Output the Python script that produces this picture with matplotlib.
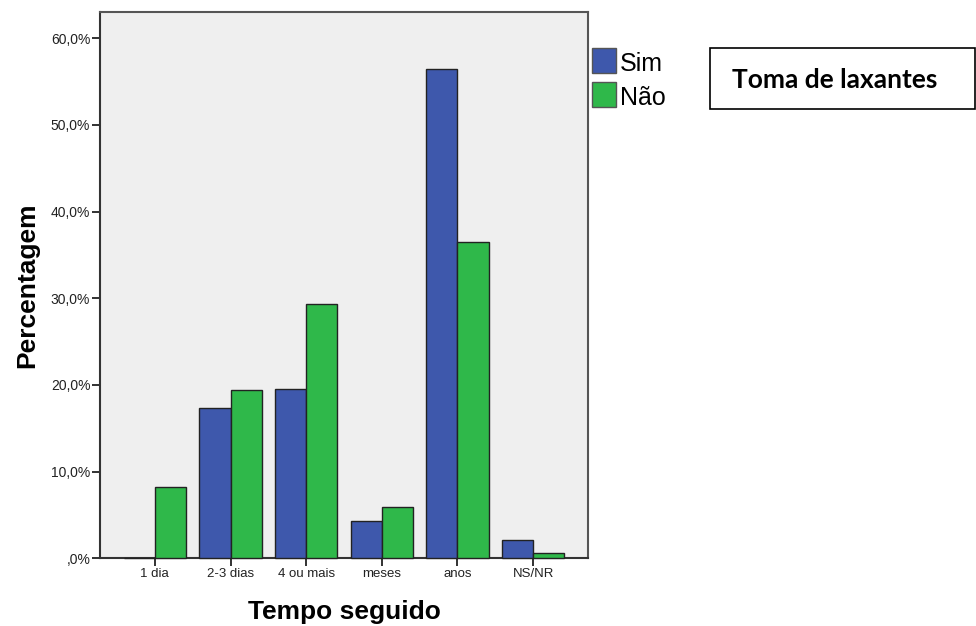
import numpy as np
import matplotlib.pyplot as plt
from matplotlib.patches import Rectangle

categorias = ['1 dia', '2-3 dias', '4 ou mais', 'meses', 'anos', 'NS/NR']
sim = [0.0, 17.4, 19.5, 4.3, 56.5, 2.1]
nao = [8.2, 19.4, 29.4, 5.9, 36.5, 0.6]
series = ['Sim', 'Não']
yticks = [0, 10, 20, 30, 40, 50, 60]
ylabels = [',0%', '10,0%', '20,0%', '30,0%', '40,0%', '50,0%', '60,0%']

plt.rcParams['font.family'] = ['Liberation Sans', 'DejaVu Sans']

azul = '#3e58ac'
verde = '#2fb84a'
W, H = 976, 626

fig = plt.figure(figsize=(9.76, 6.26), dpi=100)
ax = fig.add_axes([100 / W, 1 - 558.3 / H, 488 / W, 546.6 / H])
ax.set_facecolor('#efefef')

x = np.arange(len(categorias))
w = 0.41
ax.bar(x - w/2, sim, w, color=azul, edgecolor='#222222', linewidth=1.0, zorder=3, clip_on=False)
ax.bar(x + w/2, nao, w, color=verde, edgecolor='#222222', linewidth=1.0, zorder=3, clip_on=False)

ax.set_xlim(-0.725, 5.725)
ax.set_ylim(0, 63.07)
ax.set_xticks(x)
ax.set_xticklabels(categorias, fontsize=9.5, color='#222222')
ax.set_yticks(yticks)
ax.set_yticklabels(ylabels, fontsize=10, color='#222222')
ax.tick_params(direction='out', length=6, width=1.3, colors='#222222', pad=1)
for s in ax.spines.values():
    s.set_color('#555555')
    s.set_linewidth(1.5)
ax.spines['left'].set_color('#333333')
ax.spines['bottom'].set_color('#333333')

ax.set_ylabel('Percentagem', fontsize=19, fontweight='bold')
ax.yaxis.set_label_coords(-0.125, 0.5)
ax.set_xlabel('Tempo seguido', fontsize=19, fontweight='bold')
ax.xaxis.set_label_coords(0.5, -0.076)

# legenda
cores = [azul, verde]
for i, (nome, cor) in enumerate(zip(series, cores)):
    y0 = 48 + i * 34
    fig.patches.append(Rectangle((592 / W, 1 - (y0 + 25) / H), 24 / W, 25 / H,
                                 transform=fig.transFigure, facecolor=cor,
                                 edgecolor='#555555', linewidth=1.0))
    fig.text(620 / W, 1 - (y0 + 16) / H, nome, fontsize=18, va='center', ha='left')

# caixa do titulo
fig.patches.append(Rectangle((710 / W, 1 - 109 / H), 265 / W, 61 / H, transform=fig.transFigure,
                             facecolor='white', edgecolor='black', linewidth=1.2))
fig.text(732 / W, 1 - 80 / H, 'Toma de laxantes', fontsize=19, fontweight='bold',
         family=['Lato', 'DejaVu Sans'], va='center', ha='left')

fig.savefig('out.png', dpi=100)
